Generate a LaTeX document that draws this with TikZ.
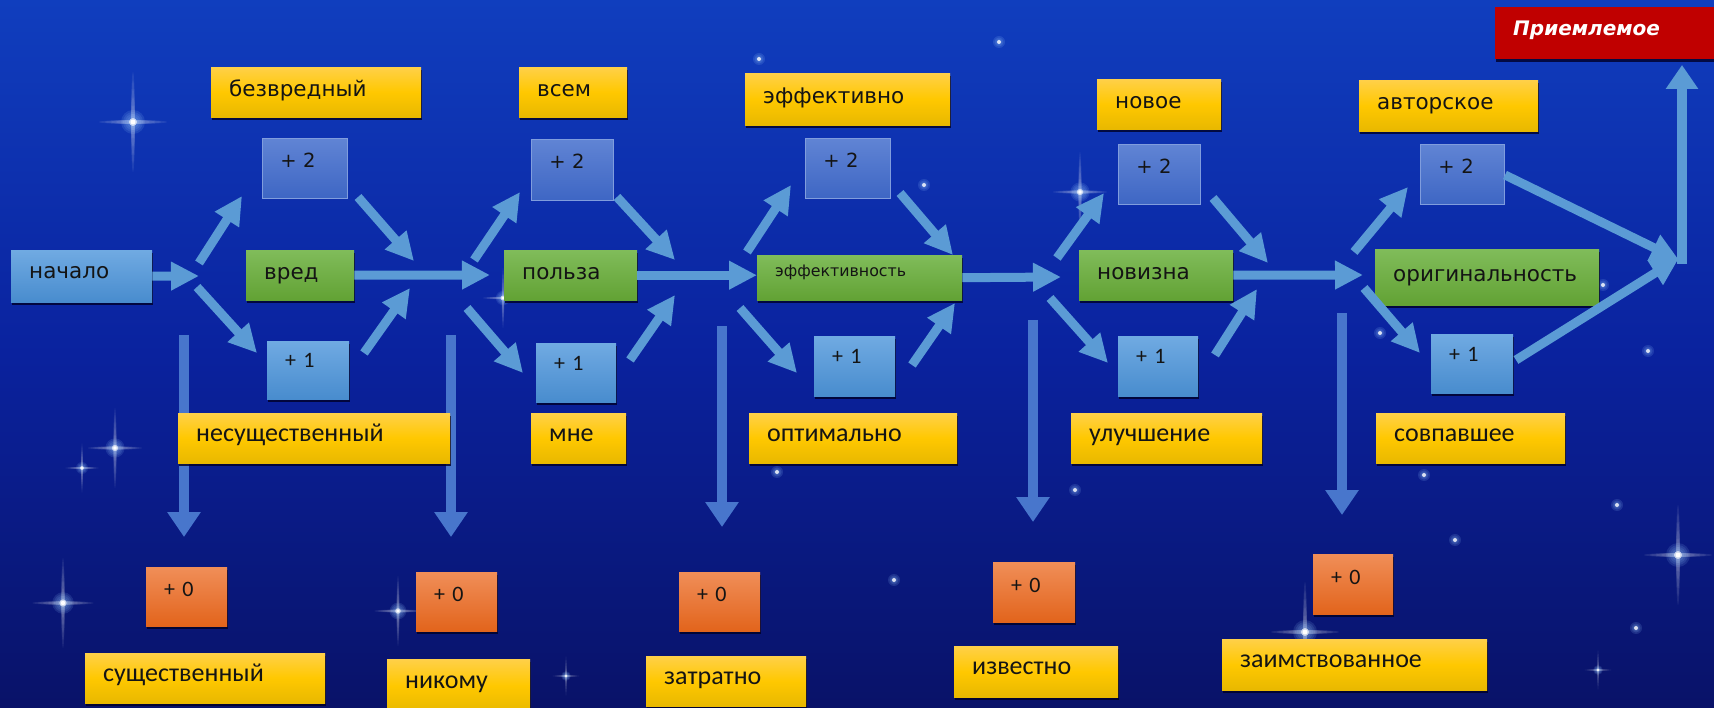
\documentclass[tikz,border=0pt]{standalone}
\usepackage{fontspec}
\setmainfont{DejaVu Sans}
\newfontfamily\narrowfont{Carlito}
\usetikzlibrary{arrows.meta,shadows}

% palette
\definecolor{bgtop}{RGB}{16,62,190}
\definecolor{bgmid}{RGB}{10,34,158}
\definecolor{bgbot}{RGB}{9,18,104}
\definecolor{arrowblue}{RGB}{91,155,213}
\definecolor{dropblue}{RGB}{72,118,204}
\definecolor{ytop}{RGB}{255,208,72}
\definecolor{ymid}{RGB}{255,200,0}
\definecolor{ybot}{RGB}{232,184,0}
\definecolor{gtop}{RGB}{128,188,90}
\definecolor{gbot}{RGB}{98,162,52}
\definecolor{lbtop}{RGB}{112,170,226}
\definecolor{lbbot}{RGB}{72,140,206}
\definecolor{mbtop}{RGB}{96,132,212}
\definecolor{mbbot}{RGB}{62,102,196}
\definecolor{otop}{RGB}{240,142,88}
\definecolor{obot}{RGB}{226,100,28}
\definecolor{redbox}{RGB}{192,0,0}
\definecolor{ink}{RGB}{20,20,20}
\definecolor{sparkglow}{RGB}{150,200,255}

% a card given by its corners (x1,y1)-(x2,y2), text set 18pt in from the left
\newcommand\placecard[7]{%
  \pgfmathsetmacro\cardw{#5-#3}%
  \pgfmathsetmacro\cardh{#6-#4}%
  \pgfmathsetmacro\cardt{#5-#3-36}%
  \node[#1, minimum width=\cardw pt, minimum height=\cardh pt,
        text width=\cardt pt, anchor=north west] (#2) at (#3,#4) {#7};%
}

\begin{document}
\begin{tikzpicture}[x=1pt, y=-1pt,
  card/.style={inner xsep=0pt, inner ysep=0pt, align=left, text=ink},
  shadowed/.style={drop shadow={shadow xshift=1pt, shadow yshift=-3pt,
      fill=black!85!blue, opacity=0.8}},
  widetext/.style={font=\fontsize{21.5}{24}\selectfont, text height=14pt, text depth=6.3pt},
  narrowtext/.style={font=\narrowfont\fontsize{26}{28}\selectfont, text height=13pt, text depth=7pt},
  topcard/.style={card, shadowed, top color=ytop, bottom color=ybot, middle color=ymid, widetext},
  lowcard/.style={card, shadowed, top color=ytop, bottom color=ybot, middle color=ymid, narrowtext},
  greencard/.style={card, shadowed, top color=gtop, bottom color=gbot, widetext},
  smallgreen/.style={font=\fontsize{15.8}{18}\selectfont, text height=8pt, text depth=10pt},
  startcard/.style={card, shadowed, top color=lbtop, bottom color=lbbot, widetext,
      text height=12pt, text depth=8pt},
  twocard/.style={card, top color=mbtop, bottom color=mbbot, draw=mbtop!80!white, line width=0.8pt,
      font=\fontsize{19.5}{22}\selectfont, text height=14pt, text depth=16pt},
  onecard/.style={card, shadowed, top color=lbtop, bottom color=lbbot,
      font=\narrowfont\fontsize{22}{24}\selectfont, text height=14pt, text depth=18.5pt},
  zerocard/.style={card, shadowed, top color=otop, bottom color=obot,
      font=\narrowfont\fontsize{22}{24}\selectfont, text height=14pt, text depth=14pt},
  redcard/.style={card, shadowed, fill=redbox, text=white,
      font=\fontsize{20}{22}\selectfont\bfseries\itshape, text height=14pt, text depth=9pt},
  flow/.style={draw=arrowblue, line width=9pt, -{Triangle[length=28pt, width=27pt]}},
  drop/.style={draw=dropblue, line width=10pt, -{Triangle[length=25pt, width=32pt]}},
  sparkle/.pic={
    \foreach \k in {1,...,6}{
      \fill[white, opacity=0.09] (0,0) ellipse ({34*\k/6} and 2);
      \fill[white, opacity=0.08] (0,0) ellipse (2 and {50*\k/6});
      \fill[sparkglow, opacity=0.13] (0,0) circle ({12*\k/6});
    }
    \fill[white, opacity=0.6] (0,0) circle (4);
    \fill[white] (0,0) circle (2.4);
  },
  stardot/.pic={
    \foreach \k in {1,...,4}{
      \fill[sparkglow, opacity=0.15] (0,0) circle ({6*\k/4});
    }
    \fill[white, opacity=0.8] (0,0) circle (2);
  }
]
\useasboundingbox (0,0) rectangle (1714,708);
\clip (0,0) rectangle (1714,708);

% night sky
\fill[top color=bgtop, bottom color=bgbot, middle color=bgmid] (0,0) rectangle (1714,708);

% stars
\pic at (133,122) {sparkle};
\pic[scale=0.8] at (115,448) {sparkle};
\pic[scale=0.5] at (82,468) {sparkle};
\pic[scale=0.9] at (63,603) {sparkle};
\pic[scale=0.7] at (398,611) {sparkle};
\pic at (1305,632) {sparkle};
\pic at (1678,555) {sparkle};
\pic[scale=0.8] at (1080,192) {sparkle};
\pic[scale=0.6] at (503,298) {sparkle};
\pic[scale=0.4] at (566,676) {sparkle};
\pic[scale=0.4] at (1598,670) {sparkle};
\pic at (999,42) {stardot};
\pic at (759,59) {stardot};
\pic at (924,185) {stardot};
\pic at (1075,490) {stardot};
\pic at (1424,475) {stardot};
\pic at (1617,505) {stardot};
\pic at (1636,628) {stardot};
\pic at (894,580) {stardot};
\pic at (1455,540) {stardot};
\pic at (1603,285) {stardot};
\pic at (1380,333) {stardot};
\pic at (1648,351) {stardot};
\pic at (777,472) {stardot};

% free ends of the connectors
\coordinate (fork1) at (199,276);
\coordinate (join1) at (490,275);
\coordinate (join3) at (1061,277);
\coordinate (join4) at (1363,275);
\coordinate (a1s) at (199,263);  \coordinate (a1e) at (242,196);
\coordinate (b1s) at (197,287);  \coordinate (b1e) at (257,353);
\coordinate (c1s) at (358,197);  \coordinate (c1e) at (414,261);
\coordinate (d1s) at (364,353);  \coordinate (d1e) at (410,288);
\coordinate (a2s) at (474,260);  \coordinate (a2e) at (520,192);
\coordinate (b2s) at (467,308);  \coordinate (b2e) at (523,373);
\coordinate (c2s) at (617,197);  \coordinate (c2e) at (675,260);
\coordinate (d2s) at (630,360);  \coordinate (d2e) at (675,295);
\coordinate (a3s) at (747,252);  \coordinate (a3e) at (791,185);
\coordinate (b3s) at (740,308);  \coordinate (b3e) at (797,373);
\coordinate (c3s) at (900,193);  \coordinate (c3e) at (953,255);
\coordinate (d3s) at (912,365);  \coordinate (d3e) at (955,303);
\coordinate (a4s) at (1057,258); \coordinate (a4e) at (1104,193);
\coordinate (b4s) at (1050,298); \coordinate (b4e) at (1108,363);
\coordinate (c4s) at (1213,198); \coordinate (c4e) at (1268,263);
\coordinate (d4s) at (1215,355); \coordinate (d4e) at (1257,289);
\coordinate (a5s) at (1354,252); \coordinate (a5e) at (1408,187);
\coordinate (b5s) at (1364,288); \coordinate (b5e) at (1420,353);
\coordinate (c5s) at (1505,175); \coordinate (c5e) at (1679,260);
\coordinate (d5s) at (1516,360); \coordinate (d5e) at (1679,258);
\coordinate (riseS) at (1682,264); \coordinate (riseE) at (1682,65);
\coordinate (v1s) at (184,335);  \coordinate (v1e) at (184,537);
\coordinate (v2s) at (451,335);  \coordinate (v2e) at (451,537);
\coordinate (v3s) at (722,326);  \coordinate (v3e) at (722,527);
\coordinate (v4s) at (1033,320); \coordinate (v4e) at (1033,522);
\coordinate (v5s) at (1342,313); \coordinate (v5e) at (1342,515);

% downward arrows to the zero scores
\draw[drop] (v1s) -- (v1e);
\draw[drop] (v2s) -- (v2e);
\draw[drop] (v3s) -- (v3e);
\draw[drop] (v4s) -- (v4e);
\draw[drop] (v5s) -- (v5e);

% cards
\placecard{topcard}{harmless}{211}{67}{421}{117}{безвредный}
\placecard{topcard}{toall}{519}{67}{627}{117}{всем}
\placecard{topcard}{effective}{745}{73}{950}{125}{эффективно}
\placecard{topcard}{newone}{1097}{79}{1221}{129}{новое}
\placecard{topcard}{author}{1359}{80}{1538}{131}{авторское}
\placecard{startcard}{start}{11}{250}{152}{302}{начало}
\placecard{twocard}{twoA}{262}{138}{347}{198}{+ 2}
\placecard{twocard}{twoB}{531}{139}{613}{200}{+ 2}
\placecard{twocard}{twoC}{805}{138}{890}{198}{+ 2}
\placecard{twocard}{twoD}{1118}{144}{1200}{204}{+ 2}
\placecard{twocard}{twoE}{1420}{144}{1504}{204}{+ 2}
\placecard{greencard}{harm}{246}{250}{354}{300}{вред}
\placecard{greencard}{use}{504}{250}{637}{300}{польза}
\placecard{greencard, smallgreen}{eff}{757}{255}{962}{300}{эффективность}
\placecard{greencard}{novelty}{1079}{250}{1233}{300}{новизна}
\placecard{greencard}{orig}{1375}{249}{1599}{305}{оригинальность}
\placecard{onecard}{oneA}{267}{341}{349}{399}{+ 1}
\placecard{onecard}{oneB}{536}{343}{616}{402}{+ 1}
\placecard{onecard}{oneC}{814}{336}{895}{396}{+ 1}
\placecard{onecard}{oneD}{1118}{336}{1198}{396}{+ 1}
\placecard{onecard}{oneE}{1431}{334}{1513}{393}{+ 1}
\placecard{lowcard}{minor}{178}{413}{450}{463}{несущественный}
\placecard{lowcard}{tome}{531}{413}{626}{463}{мне}
\placecard{lowcard}{optimal}{749}{413}{957}{463}{оптимально}
\placecard{lowcard}{improve}{1071}{413}{1262}{463}{улучшение}
\placecard{lowcard}{matched}{1376}{413}{1565}{463}{совпавшее}
\placecard{zerocard}{zeroA}{146}{567}{227}{626}{+ 0}
\placecard{zerocard}{zeroB}{416}{572}{497}{631}{+ 0}
\placecard{zerocard}{zeroC}{679}{572}{760}{631}{+ 0}
\placecard{zerocard}{zeroD}{993}{562}{1075}{622}{+ 0}
\placecard{zerocard}{zeroE}{1313}{554}{1393}{614}{+ 0}
\placecard{lowcard}{major}{85}{653}{325}{703}{существенный}
\placecard{lowcard}{nobody}{387}{659}{530}{712}{никому}
\placecard{lowcard}{costly}{646}{656}{806}{706}{затратно}
\placecard{lowcard}{known}{954}{646}{1118}{697}{известно}
\placecard{lowcard}{borrowed}{1222}{639}{1487}{690}{заимствованное}
\placecard{redcard}{accept}{1495}{7}{1720}{59}{Приемлемое}

% main chain
\draw[flow] (start.east) -- (fork1);
\draw[flow] (harm.east) -- (join1);
\draw[flow] (use.east) -- (use.east -| eff.west);
\draw[flow] (eff.east) -- (join3);
\draw[flow] (novelty.east) -- (join4);

% branches through the scores
\draw[flow] (a1s) -- (a1e);  \draw[flow] (b1s) -- (b1e);
\draw[flow] (c1s) -- (c1e);  \draw[flow] (d1s) -- (d1e);
\draw[flow] (a2s) -- (a2e);  \draw[flow] (b2s) -- (b2e);
\draw[flow] (c2s) -- (c2e);  \draw[flow] (d2s) -- (d2e);
\draw[flow] (a3s) -- (a3e);  \draw[flow] (b3s) -- (b3e);
\draw[flow] (c3s) -- (c3e);  \draw[flow] (d3s) -- (d3e);
\draw[flow] (a4s) -- (a4e);  \draw[flow] (b4s) -- (b4e);
\draw[flow] (c4s) -- (c4e);  \draw[flow] (d4s) -- (d4e);
\draw[flow] (a5s) -- (a5e);  \draw[flow] (b5s) -- (b5e);
\draw[flow] (c5s) -- (c5e);  \draw[flow] (d5s) -- (d5e);
\draw[flow, -{Triangle[length=24pt, width=31pt]}, line width=10pt] (riseS) -- (riseE);
\end{tikzpicture}
\end{document}
